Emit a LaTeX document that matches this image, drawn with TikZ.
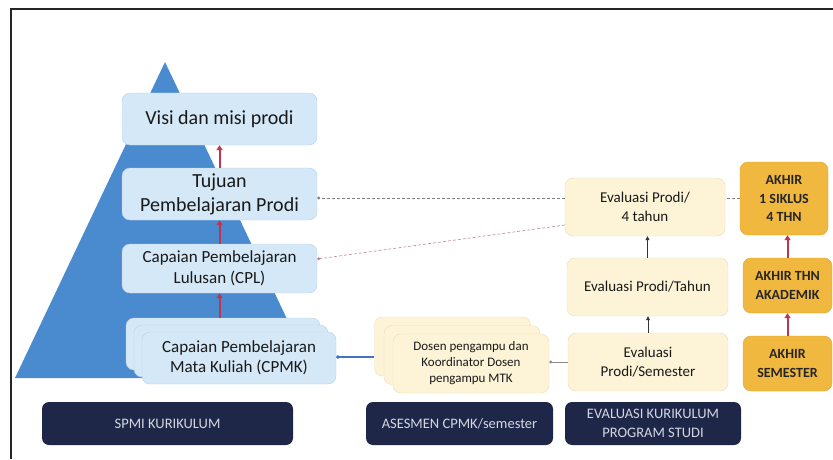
\documentclass[tikz,border=0pt]{standalone}
\usepackage{fontspec}
\setmainfont{Carlito}
\usetikzlibrary{arrows.meta}

\definecolor{pyrblue}{HTML}{4A8BCF}
\definecolor{boxblue}{HTML}{D5E8F7}
\definecolor{lineblue}{HTML}{B7D2EC}
\definecolor{cream}{HTML}{FDF3D6}
\definecolor{creamline}{HTML}{EADDB8}
\definecolor{gold}{HTML}{F0B83E}
\definecolor{goldline}{HTML}{E2A52C}
\definecolor{navy}{HTML}{1F2748}
\definecolor{navytext}{HTML}{D3D7E2}
\definecolor{arrowred}{HTML}{C2334D}
\definecolor{linkblue}{HTML}{4472C4}

\begin{document}
\begin{tikzpicture}[x=1pt,y=1pt,
  bluebox/.style={draw=lineblue,fill=boxblue,rounded corners=8pt,align=center,text=black!90,inner sep=0pt},
  creambox/.style={draw=creamline,fill=cream,rounded corners=8pt,align=center,text=black!90,inner sep=0pt},
  goldbox/.style={draw=goldline,fill=gold,rounded corners=8pt,align=center,text=black!85,inner sep=0pt,
    minimum width=89pt,font=\fontsize{14}{18.5}\selectfont\bfseries},
  labelbox/.style={fill=navy,rounded corners=7pt,align=center,text=navytext,inner sep=0pt,
    minimum height=43pt,font=\fontsize{14.5}{19}\selectfont},
  redarrow/.style={draw=arrowred,line width=2pt,-{Triangle[length=5pt,width=6pt]}},
  blackarrow/.style={draw=black!80,line width=0.8pt,-{Triangle[length=4pt,width=4pt]}},
  dashlink/.style={line width=0.6pt,dash pattern=on 3pt off 2pt,-{Circle[length=3pt]}}
]
\useasboundingbox (0,0) rectangle (833,459);

% frame and pyramid
\draw[line width=2pt,black!85] (11,0) -- (11,450) -- (833,450);
\fill[pyrblue] (165,397) -- (15,81) -- (315,81) -- cycle;

% pyramid boxes
\node[bluebox,minimum width=195pt,minimum height=52pt,font=\fontsize{20}{24}\selectfont] (visi) at (219.5,340) {Visi dan misi prodi};
\node[bluebox,minimum width=195pt,minimum height=52pt,font=\fontsize{20}{24}\selectfont] (tujuan) at (219.5,265) {Tujuan\\Pembelajaran Prodi};
\node[bluebox,minimum width=195pt,minimum height=49pt,font=\fontsize{17}{20.5}\selectfont] (cpl) at (219.5,190.5) {Capaian Pembelajaran\\Lulusan (CPL)};
\node[bluebox,minimum width=194pt,minimum height=52pt] (cpmkA) at (223,115) {};
\node[bluebox,minimum width=194pt,minimum height=52pt] (cpmkB) at (231,108) {};
\node[bluebox,minimum width=194pt,minimum height=52pt,font=\fontsize{17}{20.5}\selectfont] (cpmk) at (239,101) {Capaian Pembelajaran\\Mata Kuliah (CPMK)};

% dosen stack
\node[creambox,minimum width=156pt,minimum height=59pt] (dosenA) at (452.5,112.5) {};
\node[creambox,minimum width=156pt,minimum height=59pt] (dosenB) at (462,104) {};
\node[creambox,minimum width=156pt,minimum height=59pt,font=\fontsize{13}{16}\selectfont] (dosen) at (471,95.5) {Dosen pengampu dan\\Koordinator Dosen\\pengampu MTK};

% evaluasi
\node[creambox,minimum width=160pt,minimum height=58pt,font=\fontsize{15}{19}\selectfont] (evalsem) at (648,97) {Evaluasi\\Prodi/Semester};
\node[creambox,minimum width=161pt,minimum height=58pt,font=\fontsize{15}{19}\selectfont] (evalthn) at (647.5,172) {Evaluasi Prodi/Tahun};
\node[creambox,minimum width=160pt,minimum height=58pt,font=\fontsize{15}{19}\selectfont] (eval4) at (645,252) {Evaluasi Prodi/\\4 tahun};

% akhir
\node[goldbox,minimum height=55pt] (akhirsem) at (787.5,95.5) {AKHIR\\SEMESTER};
\node[goldbox,minimum height=55pt] (akhirthn) at (787.5,173.5) {AKHIR THN\\AKADEMIK};
\node[goldbox,minimum width=88pt,minimum height=73pt] (siklus) at (784,260.5) {AKHIR\\1 SIKLUS\\4 THN};

% labels
\node[labelbox,minimum width=251pt] (spmi) at (167.5,35.5) {SPMI KURIKULUM};
\node[labelbox,minimum width=187pt] (asesmen) at (459.5,35.5) {ASESMEN CPMK/semester};
\node[labelbox,minimum width=176pt] (evalkur) at (653,35.5) {EVALUASI KURIKULUM\\PROGRAM STUDI};

% arrows
\draw[redarrow] (tujuan.north) -- (visi.south);
\draw[redarrow] (cpl.north) -- (tujuan.south);
\draw[redarrow] (cpl.south |- cpmkA.north) -- (cpl.south);
\draw[redarrow] (akhirsem.north) -- (akhirthn.south);
\draw[redarrow] (akhirthn.north) -- (akhirthn.north |- siklus.south);
\draw[blackarrow] (evalsem.north) -- (evalsem.north |- evalthn.south);
\draw[blackarrow] (evalthn.north) -- (evalthn.north |- eval4.south);
\draw[dashlink,black!50] ([yshift=9pt]eval4.west) -- ([yshift=-4pt]tujuan.east);
\draw[dashlink,red!40!black!45] ([yshift=-18pt]eval4.west) -- ([yshift=9.5pt]cpl.east);
\draw[line width=0.6pt,dash pattern=on 3pt off 2pt,black!50] (siklus.west) -- (siklus.west -| eval4.east);
\draw[linkblue,line width=1.2pt,-{Circle[length=3.5pt]}] ([yshift=-10.5pt]dosenA.west) -- ([yshift=-10.5pt]dosenA.west -| cpmk.east);
\draw[black!45,line width=0.8pt,-{Circle[length=3pt]}] (evalsem.west) -- (evalsem.west -| dosen.east);
\end{tikzpicture}
\end{document}
